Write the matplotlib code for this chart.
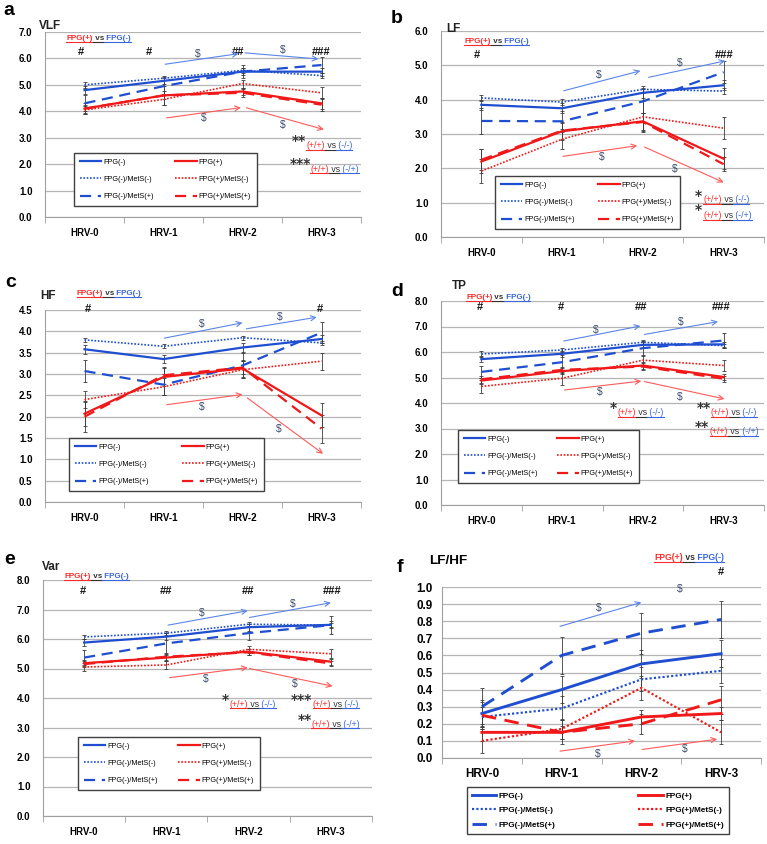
import numpy as np
import matplotlib.pyplot as plt
from matplotlib.lines import Line2D

W, H = 767, 844
plt.rcParams['font.family'] = ['Liberation Sans', 'DejaVu Sans']

visits = ['HRV-0', 'HRV-1', 'HRV-2', 'HRV-3']
groups = ['FPG(-)', 'FPG(-)/MetS(-)', 'FPG(-)/MetS(+)',
          'FPG(+)', 'FPG(+)/MetS(-)', 'FPG(+)/MetS(+)']

# rows follow the order of groups
vlf_mean = [[4.80, 5.15, 5.50, 5.50],
            [5.00, 5.25, 5.55, 5.35],
            [4.30, 4.95, 5.50, 5.75],
            [4.10, 4.60, 4.75, 4.30],
            [4.05, 4.45, 5.05, 4.70],
            [4.10, 4.60, 4.70, 4.25]]
vlf_err = [[0.15, 0.12, 0.12, 0.15],
           [0.10, 0.08, 0.10, 0.08],
           [0.30, 0.35, 0.25, 0.30],
           [0.15, 0.15, 0.12, 0.20],
           [0.15, 0.20, 0.15, 0.22],
           [0.20, 0.35, 0.15, 0.25]]

lf_mean = [[3.85, 3.75, 4.20, 4.42],
           [4.05, 3.93, 4.30, 4.25],
           [3.38, 3.37, 3.95, 4.80],
           [2.20, 3.08, 3.37, 2.28],
           [1.92, 2.85, 3.50, 3.17],
           [2.25, 3.10, 3.35, 2.12]]
lf_err = [[0.15, 0.15, 0.15, 0.15],
          [0.08, 0.08, 0.10, 0.08],
          [0.37, 0.30, 0.35, 0.32],
          [0.35, 0.25, 0.25, 0.30],
          [0.35, 0.30, 0.45, 0.33],
          [0.30, 0.25, 0.25, 0.20]]

hf_mean = [[3.58, 3.35, 3.62, 3.82],
           [3.80, 3.65, 3.85, 3.73],
           [3.07, 2.75, 3.20, 3.97],
           [2.07, 2.93, 3.13, 2.03],
           [2.40, 2.70, 3.10, 3.30],
           [2.00, 2.97, 3.15, 1.72]]
hf_err = [[0.10, 0.10, 0.10, 0.10],
          [0.05, 0.05, 0.05, 0.05],
          [0.25, 0.25, 0.30, 0.25],
          [0.30, 0.20, 0.20, 0.28],
          [0.20, 0.20, 0.20, 0.20],
          [0.35, 0.20, 0.15, 0.33]]

tp_mean = [[5.72, 5.93, 6.28, 6.30],
           [5.92, 6.08, 6.38, 6.25],
           [5.22, 5.60, 6.15, 6.45],
           [4.88, 5.25, 5.47, 5.02],
           [4.65, 4.97, 5.68, 5.47],
           [4.93, 5.30, 5.43, 4.95]]
tp_err = [[0.12, 0.12, 0.12, 0.10],
          [0.10, 0.08, 0.08, 0.08],
          [0.25, 0.30, 0.30, 0.28],
          [0.12, 0.12, 0.12, 0.12],
          [0.25, 0.25, 0.20, 0.23],
          [0.13, 0.12, 0.12, 0.12]]

var_mean = [[5.88, 6.08, 6.40, 6.48],
            [6.07, 6.20, 6.50, 6.47],
            [5.37, 5.85, 6.20, 6.47],
            [5.18, 5.37, 5.57, 5.23],
            [5.05, 5.12, 5.65, 5.50],
            [5.15, 5.40, 5.55, 5.17]]
var_err = [[0.12, 0.12, 0.12, 0.12],
           [0.08, 0.08, 0.08, 0.08],
           [0.25, 0.35, 0.25, 0.30],
           [0.10, 0.10, 0.10, 0.10],
           [0.15, 0.15, 0.12, 0.15],
           [0.10, 0.12, 0.10, 0.10]]

lfhf_mean = [[0.26, 0.40, 0.55, 0.61],
             [0.24, 0.29, 0.46, 0.51],
             [0.30, 0.60, 0.73, 0.81],
             [0.15, 0.15, 0.24, 0.26],
             [0.10, 0.17, 0.41, 0.15],
             [0.25, 0.15, 0.20, 0.34]]
lfhf_err = [[0.08, 0.08, 0.08, 0.08],
            [0.06, 0.07, 0.07, 0.07],
            [0.11, 0.11, 0.12, 0.11],
            [0.05, 0.04, 0.04, 0.04],
            [0.07, 0.06, 0.07, 0.07],
            [0.08, 0.07, 0.06, 0.08]]

vlf_hash = ['#', '#', '##', '###']
tp_hash = ['#', '#', '##', '###']
var_hash = ['#', '##', '##', '###']

BLUE, RED = '#1f4fd0', '#f01818'
ABLUE, ARED = '#5b86e6', '#ff5a5a'
TBLUE, TRED, DARK = '#3a66dd', '#ff2a2a', '#333333'
styles = [dict(color=BLUE, ls='-', lw=1.6),
          dict(color=BLUE, ls=(0, (1, 1)), lw=1.2),
          dict(color=BLUE, ls=(0, (5, 3)), lw=1.6),
          dict(color=RED, ls='-', lw=1.6),
          dict(color=RED, ls=(0, (1, 1)), lw=1.2),
          dict(color=RED, ls=(0, (5, 3)), lw=1.6)]

fig = plt.figure(figsize=(W / 100, H / 100), dpi=100)
underlines = []


def make_axes(l, r, t, b, means, errs, ymax, ystep, tsize=7, ypad=9, xpad=8):
    ax = fig.add_axes([l / W, 1 - b / H, (r - l) / W, (b - t) / H])
    x = np.arange(4)
    for m, e, st, g in zip(means, errs, styles, groups):
        ax.errorbar(x, m, yerr=e, fmt='none', ecolor='#3c3c3c', elinewidth=0.6,
                    capsize=1.6, capthick=0.6, zorder=3)
        ax.plot(x, m, label=g, zorder=4, **st)
    ax.set_xlim(-0.5, 3.5)
    ax.set_ylim(0, ymax)
    ticks = np.arange(0, ymax + ystep / 2, ystep)
    ax.set_yticks(ticks)
    ax.set_yticklabels(['%.1f' % v for v in ticks], fontweight='bold', fontsize=tsize)
    ax.set_xticks(x)
    ax.set_xticklabels(visits, fontweight='bold', fontsize=tsize)
    ax.set_xticks(np.arange(-0.5, 4, 1), minor=True)
    ax.tick_params(axis='y', length=0, pad=ypad)
    ax.tick_params(axis='x', which='major', length=0, pad=xpad)
    ax.tick_params(axis='x', which='minor', length=4, color='#a0a0a0', direction='out')
    ax.yaxis.grid(True, color='#b5b5b5', lw=0.9)
    ax.set_axisbelow(True)
    for s in ['top', 'right']:
        ax.spines[s].set_visible(False)
    for s in ['left', 'bottom']:
        ax.spines[s].set_color('#a0a0a0')
    return ax


def legend(ax, x0, ytop, x1, fs=5.2, ls=1.4, hl=3.0, bold=False, bp=0.8):
    leg = ax.legend(loc='upper left', bbox_to_anchor=(x0 / W, 1 - ytop / H, (x1 - x0) / W, 0),
                    bbox_transform=fig.transFigure, mode='expand', borderaxespad=0, ncol=2,
                    labelspacing=ls, handlelength=hl, handletextpad=0.3, borderpad=bp,
                    fancybox=False, framealpha=1, prop=dict(size=fs, weight='bold' if bold else 'normal'))
    leg.get_frame().set_edgecolor('#404040')
    leg.get_frame().set_linewidth(1.0)


def rich(ax, x, y, parts, size, weight='normal'):
    t = None
    for s, c in parts:
        if t is None:
            t = ax.text(x, y, s, color=c, fontsize=size, fontweight=weight, va='center', ha='left')
        else:
            t = ax.annotate(s, xy=(1, 0.5), xycoords=t, color=c, fontsize=size,
                            fontweight=weight, va='center', ha='left')
        underlines.append((t, c))


def vs_label(ax, x, y, size=5.8):
    rich(ax, x, y, [('FPG(+)', TRED), (' vs', DARK), (' FPG(-)', TBLUE)], size, 'bold')


def arrow(ax, p0, p1, c):
    ax.annotate('', xy=p1, xytext=p0,
                arrowprops=dict(arrowstyle='->', color=c, lw=0.8, shrinkA=0, shrinkB=0,
                                mutation_scale=9))


def dollar(ax, x, y):
    ax.text(x, y, '$', fontsize=7.5, color='#3c4c6c', ha='center', va='center')


def hashes(ax, xs, y, labels):
    for xx, s in zip(xs, labels):
        ax.text(xx, y, s, fontsize=8, fontweight='bold', color='#111111', ha='center', va='center')


def sig(ax, stars, sx, sy, lx, ly, right):
    ax.text(sx, sy, stars, fontsize=10, fontweight='bold', color=DARK, ha='center', va='center',
            family='DejaVu Sans')
    rich(ax, lx, ly, [('(+/+)', TRED), (' vs', DARK), (' ' + right, TBLUE)], 6.3)


def figtext(x, y, s, **kw):
    fig.text(x / W, 1 - y / H, s, **kw)


# a  VLF
ax = make_axes(45, 361, 32, 217, vlf_mean, vlf_err, 7, 1)
legend(ax, 74, 153, 257)
vs_label(ax, -0.23, 6.75)
hashes(ax, [-0.05, 0.82, 1.95, 3.0], 6.25, vlf_hash)
arrow(ax, (1.02, 5.78), (1.95, 6.18), ABLUE)
arrow(ax, (2.03, 6.21), (2.96, 5.98), ABLUE)
dollar(ax, 1.43, 6.16)
dollar(ax, 2.51, 6.31)
arrow(ax, (1.04, 3.75), (1.98, 4.14), ARED)
arrow(ax, (2.05, 4.13), (3.03, 3.31), ARED)
dollar(ax, 1.51, 3.73)
dollar(ax, 2.51, 3.48)
sig(ax, '**', 2.71, 2.88, 2.81, 2.7, '(-/-)')
sig(ax, '***', 2.73, 2.0, 2.86, 1.81, '(-/+)')

# b  LF
ax = make_axes(441, 764, 31, 237, lf_mean, lf_err, 6, 1)
legend(ax, 495, 176, 680)
vs_label(ax, -0.21, 5.69)
hashes(ax, [-0.06, 3.01], 5.3, ['#', '###'])
arrow(ax, (1.02, 4.26), (1.97, 4.84), ABLUE)
arrow(ax, (2.07, 4.65), (3.02, 5.13), ABLUE)
dollar(ax, 1.45, 4.72)
dollar(ax, 2.46, 5.08)
arrow(ax, (1.01, 2.35), (1.93, 2.66), ARED)
arrow(ax, (2.02, 2.62), (3.0, 1.59), ARED)
dollar(ax, 1.49, 2.33)
dollar(ax, 2.4, 1.99)
sig(ax, '*', 2.69, 1.2, 2.75, 1.09, '(-/-)')
sig(ax, '*', 2.69, 0.78, 2.75, 0.62, '(-/+)')

# c  HF
ax = make_axes(45, 361, 310, 502, hf_mean, hf_err, 4.5, 0.5)
legend(ax, 69, 438, 264)
vs_label(ax, -0.1, 4.88)
hashes(ax, [0.04, 2.98], 4.53, ['#', '#'])
arrow(ax, (1.01, 3.84), (2.0, 4.2), ABLUE)
arrow(ax, (2.05, 4.06), (2.94, 4.33), ABLUE)
dollar(ax, 1.48, 4.17)
dollar(ax, 2.47, 4.33)
arrow(ax, (1.04, 2.28), (2.0, 2.52), ARED)
arrow(ax, (2.06, 2.44), (3.02, 1.13), ARED)
dollar(ax, 1.48, 2.23)
dollar(ax, 2.46, 1.70)

# d  TP
ax = make_axes(441, 764, 301, 505, tp_mean, tp_err, 8, 1)
legend(ax, 458, 430, 639)
vs_label(ax, -0.19, 8.13)
hashes(ax, [-0.02, 0.98, 1.98, 2.97], 7.75, tp_hash)
arrow(ax, (1.02, 6.43), (1.97, 7.02), ABLUE)
arrow(ax, (2.02, 6.69), (2.93, 7.19), ABLUE)
dollar(ax, 1.42, 6.86)
dollar(ax, 2.47, 7.16)
arrow(ax, (1.03, 4.51), (1.98, 4.86), ARED)
arrow(ax, (2.02, 4.84), (3.01, 4.16), ARED)
dollar(ax, 1.46, 4.42)
dollar(ax, 2.46, 4.22)
sig(ax, '*', 1.64, 3.82, 1.69, 3.62, '(-/-)')
sig(ax, '**', 2.75, 3.82, 2.84, 3.62, '(-/-)')
sig(ax, '**', 2.73, 3.07, 2.83, 2.88, '(-/+)')

# e  Var
ax = make_axes(43, 372, 580, 816, var_mean, var_err, 8, 1)
legend(ax, 78, 737, 260)
vs_label(ax, -0.24, 8.11)
hashes(ax, [-0.01, 1.0, 1.99, 3.02], 7.64, var_hash)
arrow(ax, (1.02, 6.47), (1.99, 6.96), ABLUE)
arrow(ax, (2.01, 6.73), (3.0, 7.23), ABLUE)
dollar(ax, 1.43, 6.87)
dollar(ax, 2.54, 7.2)
arrow(ax, (1.04, 4.69), (1.99, 5.03), ARED)
arrow(ax, (2.01, 5.0), (3.02, 4.4), ARED)
dollar(ax, 1.48, 4.64)
dollar(ax, 2.56, 4.49)
sig(ax, '*', 1.72, 3.94, 1.77, 3.79, '(-/-)')
sig(ax, '***', 2.64, 3.94, 2.78, 3.79, '(-/-)')
sig(ax, '**', 2.68, 3.26, 2.76, 3.11, '(-/+)')

# f  LF/HF
ax = make_axes(442, 761, 587, 758, lfhf_mean, lfhf_err, 1.0, 0.1, tsize=8.4, ypad=6.5, xpad=7.5)
for ln in ax.get_lines():
    ln.set_linewidth(ln.get_linewidth() * 1.3)
legend(ax, 467, 787, 729, fs=5.9, ls=0.85, hl=3.0, bold=True, bp=0.6)
vs_label(ax, 2.16, 1.17, 6.2)
hashes(ax, [3.0], 1.09, ['#'])
arrow(ax, (0.98, 0.77), (2.0, 0.91), ABLUE)
arrow(ax, (2.01, 0.87), (2.95, 1.02), ABLUE)
dollar(ax, 1.47, 0.88)
dollar(ax, 2.48, 0.99)
arrow(ax, (0.98, 0.04), (1.92, 0.10), ARED)
arrow(ax, (2.01, 0.05), (2.95, 0.11), ARED)
dollar(ax, 1.45, 0.025)
dollar(ax, 2.54, 0.05)

# panel letters and titles
for lx, ly, s in [(3, 15, 'a'), (391, 23, 'b'), (5, 287, 'c'),
                  (391, 296, 'd'), (4, 564, 'e'), (397, 572, 'f')]:
    figtext(lx, ly, s, fontsize=14, fontweight='bold', va='baseline')
for tx, ty, s in [(39, 26, 'VLF'), (446, 29, 'LF'), (40, 296, 'HF'),
                  (452, 286, 'TP'), (42, 567, 'Var')]:
    figtext(tx, ty, s, fontsize=8.5, fontweight='bold', va='center', color='#222222')
figtext(429, 561, 'LF/HF', fontsize=9.7, fontweight='bold', va='center')

fig.canvas.draw()
for t, c in underlines:
    bb = t.get_window_extent()
    yy = (bb.y0 + 0.5) / H
    fig.add_artist(Line2D([bb.x0 / W, bb.x1 / W], [yy, yy], color=c, lw=0.8,
                          transform=fig.transFigure))

fig.savefig('out.png', dpi=100)
